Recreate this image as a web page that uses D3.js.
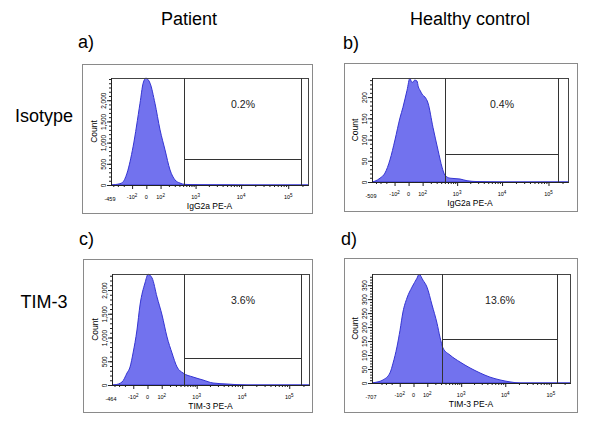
<!DOCTYPE html>
<html>
<head>
<meta charset="utf-8">
<script src="https://cdn.jsdelivr.net/npm/d3@7"></script>
<style>
body { margin: 0; background: #fff; }
svg { display: block; font-family: "Liberation Sans", Arial, sans-serif; }
</style>
</head>
<body>
<div id="chart"></div>
<script>
// headings
var columnTitles = ["Patient", "Healthy control"];
var rowTitles = ["Isotype", "TIM-3"];
var panelLetters = ["a)", "b)", "c)", "d)"];
var axisTitles = ["IgG2a PE-A", "IgG2a PE-A", "TIM-3 PE-A", "TIM-3 PE-A"];
var gatePercents = ["0.2%", "0.4%", "3.6%", "13.6%"];

// x range (PE-A) and count range of each plot
var xMins = [-459, -509, -464, -707];
var xMax = 262143;
var yMaxes = [2524, 245, 2337, 390];

// count ticks
var countTicksA = [0, 500, 1000, 1500, 2000];
var countTicksB = [0, 50, 100, 150, 200];
var countTicksC = [0, 500, 1000, 1500, 2000];
var countTicksD = [0, 50, 100, 150, 200, 250, 300, 350];
var countMinorSteps = [100, 10, 100, 10];

// PE-A ticks
var decadeTicks = [-100, 0, 100, 1000, 10000, 100000];
var decadeBases = ["-10", "0", "10", "10", "10", "10"];
var decadePowers = ["2", "", "2", "3", "4", "5"];
var minorTicks = [-400, -300, -200,
    200, 300, 400, 500, 600, 700, 800, 900,
    2000, 3000, 4000, 5000, 6000, 7000, 8000, 9000,
    20000, 30000, 40000, 50000, 60000, 70000, 80000, 90000,
    200000];

// gate: lower / upper PE-A edge, count of the marker line
var gateLow = [527, 504, 493, 319];
var gateHigh = [186500, 160200, 177700, 136300];
var gateCount = [613, 66, 568, 157];

// histograms [PE-A, count]
var histA = [[-459, 0], [-407, 4], [-300, 20], [-227, 50], [-156, 280], [-91, 900], [-36, 1930],
    [-17, 2400], [-2, 2520], [20, 2400], [52, 1930], [95, 1300], [148, 830], [217, 355],
    [304, 120], [415, 45], [558, 15], [1200, 6], [3000, 4], [9000, 2], [12000, 0], [262143, 0]];
var histB = [[-509, 0], [-426, 2], [-310, 9], [-221, 21], [-151, 52], [-96, 99], [-53, 151],
    [-32, 176], [-8, 216], [7, 245], [15, 236], [24, 235], [35, 240], [51, 238], [62, 224],
    [76, 216], [100, 205], [125, 200], [161, 186], [233, 129], [328, 75], [421, 35], [504, 16],
    [673, 9], [1168, 7], [1690, 3], [2830, 1], [10490, 0], [262143, 0]];
var histC = [[-464, 0], [-386, 5], [-246, 63], [-171, 253], [-134, 379], [-102, 674], [-67, 1158],
    [-44, 1684], [-13, 2147], [3, 2330], [25, 2253], [59, 1853], [103, 1474], [159, 1011],
    [230, 674], [322, 379], [465, 253], [820, 168], [1396, 105], [2338, 42], [4720, 21],
    [12690, 0], [262143, 0]];
var histD = [[-707, 0], [-593, 2], [-364, 11], [-227, 36], [-180, 71], [-130, 129], [-97, 189],
    [-70, 254], [-39, 304], [-8, 343], [19, 375], [32, 389], [61, 368], [97, 343], [154, 279],
    [226, 214], [279, 164], [341, 125], [527, 100], [938, 75], [1614, 54], [2738, 36],
    [4590, 21], [7650, 11], [12720, 4], [21130, 0], [262143, 0]];

var histograms = [histA, histB, histC, histD];
var countTicks = [countTicksA, countTicksB, countTicksC, countTicksD];

// where each panel sits: outer box and plot frame [x1, y1, x2, y2]
var layout = [
    { box: [82, 64, 312, 213], plot: [111, 78, 308, 185] },
    { box: [344, 63, 577, 211], plot: [372, 78, 568, 182] },
    { box: [83, 259, 312, 412], plot: [112, 274, 309, 385] },
    { box: [344, 258, 577, 412], plot: [372, 274, 570, 383] }
];

var svg = d3.select("#chart")
    .append("svg")
    .attr("width", 600)
    .attr("height", 434);

svg.append("rect")
    .attr("width", 600)
    .attr("height", 434)
    .attr("fill", "#fff");

// titles
svg.selectAll(".coltitle")
    .data(columnTitles)
    .enter()
    .append("text")
    .attr("class", "coltitle")
    .attr("x", function(d, i) { return [189, 470][i]; })
    .attr("y", 25)
    .attr("text-anchor", "middle")
    .style("font-size", "18px")
    .text(function(d) { return d; });

svg.selectAll(".rowtitle")
    .data(rowTitles)
    .enter()
    .append("text")
    .attr("class", "rowtitle")
    .attr("x", 44)
    .attr("y", function(d, i) { return [122, 308][i]; })
    .attr("text-anchor", "middle")
    .style("font-size", "18px")
    .text(function(d) { return d; });

svg.selectAll(".letter")
    .data(panelLetters)
    .enter()
    .append("text")
    .attr("class", "letter")
    .attr("x", function(d, i) { return [78, 343, 79, 341][i]; })
    .attr("y", function(d, i) { return [48, 49, 245, 245][i]; })
    .style("font-size", "18px")
    .text(function(d) { return d; });

function crisp(v) { return Math.round(v) + 0.5; }

function drawPanel(i) {
    var L = layout[i];
    var g = svg.append("g");

    // outer box
    g.append("rect")
        .attr("x", L.box[0] + 0.5)
        .attr("y", L.box[1] + 0.5)
        .attr("width", L.box[2] - L.box[0])
        .attr("height", L.box[3] - L.box[1])
        .attr("fill", "none")
        .attr("stroke", "#8a8a8a");

    var x = d3.scaleSymlog()
        .constant(100)
        .domain([xMins[i], xMax])
        .range([L.plot[0], L.plot[2]]);

    var y = d3.scaleLinear()
        .domain([0, yMaxes[i]])
        .range([L.plot[3], L.plot[1]]);

    // histogram
    var area = d3.area()
        .x(function(d) { return x(d[0]); })
        .y0(y(0))
        .y1(function(d) { return y(d[1]); })
        .curve(d3.curveMonotoneX);

    g.append("path")
        .datum(histograms[i])
        .attr("d", area)
        .attr("fill", "#7272ee")
        .attr("stroke", "#3434d2")
        .attr("stroke-width", 1);

    // plot frame
    g.append("rect")
        .attr("x", L.plot[0] + 0.5)
        .attr("y", L.plot[1] + 0.5)
        .attr("width", L.plot[2] - L.plot[0])
        .attr("height", L.plot[3] - L.plot[1])
        .attr("fill", "none")
        .attr("stroke", "#444");

    // gate
    var gx1 = crisp(x(gateLow[i])), gx2 = crisp(x(gateHigh[i])), gy = crisp(y(gateCount[i]));
    g.append("line")
        .attr("x1", gx1).attr("x2", gx1)
        .attr("y1", L.plot[1]).attr("y2", L.plot[3])
        .attr("stroke", "#333");
    g.append("line")
        .attr("x1", gx2).attr("x2", gx2)
        .attr("y1", L.plot[1]).attr("y2", L.plot[3])
        .attr("stroke", "#333");
    g.append("line")
        .attr("x1", gx1).attr("x2", gx2)
        .attr("y1", gy).attr("y2", gy)
        .attr("stroke", "#333");

    g.append("text")
        .attr("x", (gx1 + gx2) / 2)
        .attr("y", L.plot[1] + 30)
        .attr("text-anchor", "middle")
        .style("font-size", "10.5px")
        .style("fill", "#222")
        .text(gatePercents[i]);

    // x axis
    var xMinor = d3.axisBottom(x).tickValues(minorTicks).tickSize(2).tickSizeOuter(0).tickFormat("");
    var xMajor = d3.axisBottom(x).tickValues(decadeTicks).tickSize(4).tickSizeOuter(0).tickFormat("");

    g.append("g")
        .attr("transform", "translate(0," + L.plot[3] + ")")
        .call(xMinor);
    g.append("g")
        .attr("transform", "translate(0," + L.plot[3] + ")")
        .call(xMajor);

    var labels = g.selectAll(".xlab")
        .data(d3.range(decadeTicks.length))
        .enter()
        .append("text")
        .attr("class", "xlab")
        .attr("x", function(j) { return x(decadeTicks[j]); })
        .attr("y", L.plot[3] + 14)
        .attr("text-anchor", "middle")
        .style("font-size", "5.5px");
    labels.append("tspan")
        .text(function(j) { return decadeBases[j]; });
    labels.append("tspan")
        .attr("dy", -2.5)
        .style("font-size", "4.5px")
        .text(function(j) { return decadePowers[j]; });

    g.append("text")
        .attr("x", x(xMins[i]) - 1)
        .attr("y", L.plot[3] + 16)
        .attr("text-anchor", "middle")
        .style("font-size", "5.5px")
        .text(xMins[i]);

    g.append("text")
        .attr("x", (L.plot[0] + L.plot[2]) / 2)
        .attr("y", L.plot[3] + 24)
        .attr("text-anchor", "middle")
        .style("font-size", "8.5px")
        .text(axisTitles[i]);

    // y axis
    var yMinor = d3.axisLeft(y)
        .tickValues(d3.range(0, yMaxes[i], countMinorSteps[i]))
        .tickSize(2).tickSizeOuter(0).tickFormat("");
    var yMajor = d3.axisLeft(y)
        .tickValues(countTicks[i])
        .tickSize(4).tickSizeOuter(0)
        .tickFormat(d3.format(","));

    g.append("g")
        .attr("transform", "translate(" + L.plot[0] + ",0)")
        .call(yMinor);
    var ya = g.append("g")
        .attr("transform", "translate(" + L.plot[0] + ",0)")
        .call(yMajor);

    ya.selectAll("text")
        .attr("x", 0)
        .attr("y", -5.5)
        .attr("dy", 0)
        .attr("transform", "rotate(-90)")
        .attr("text-anchor", "middle")
        .style("font-size", "6.5px")
        .style("font-family", "inherit");

    g.append("text")
        .attr("transform", "translate(" + (L.plot[0] - 14.5) + "," + ((L.plot[1] + L.plot[3]) / 2) + ") rotate(-90)")
        .attr("text-anchor", "middle")
        .style("font-size", "8.5px")
        .text("Count");

    g.selectAll(".domain").attr("stroke", "#222");
    g.selectAll(".tick line").attr("stroke", "#222");
}

for (var i = 0; i < 4; i++) {
    drawPanel(i);
}
</script>
</body>
</html>
